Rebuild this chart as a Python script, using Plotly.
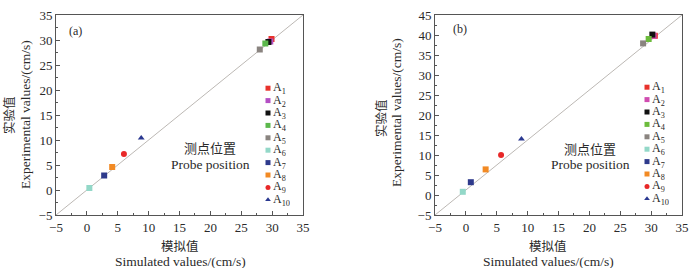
import plotly.graph_objects as go

labels = ["A<sub>1</sub>", "A<sub>2</sub>", "A<sub>3</sub>", "A<sub>4</sub>", "A<sub>5</sub>",
          "A<sub>6</sub>", "A<sub>7</sub>", "A<sub>8</sub>", "A<sub>9</sub>", "A<sub>10</sub>"]
sim_a = [29.9, 29.7, 29.4, 28.9, 28.0, 0.4, 2.8, 4.1, 6.0, 8.8]
exp_a = [30.2, 29.7, 29.6, 29.3, 28.1, 0.4, 2.9, 4.6, 7.2, 10.4]
sim_b = [30.6, 30.4, 30.2, 29.6, 28.7, -0.5, 0.8, 3.2, 5.7, 9.0]
exp_b = [39.8, 39.8, 40.1, 39.0, 37.9, 0.8, 3.2, 6.4, 10.0, 14.0]
colors = ["#e8322c", "#b44fc4", "#111111", "#5cb84c", "#8a8480",
          "#93d8c8", "#2e3a8c", "#f28a24", "#e82828", "#2a3890"]
colors_b = ["#e8322c", "#d04cb0", "#111111", "#6cbc3c", "#8a8480",
            "#93d8c8", "#2e3a8c", "#f28a24", "#e82828", "#2a3890"]
symbols = ["square"] * 8 + ["circle", "triangle-up"]

xrange_ = [-5, 35]
yrange_a = [-5, 35]
yrange_b = [-5, 45]

FONT = "Liberation Serif, Times New Roman, Noto Sans CJK SC, serif"
TXT = "#2a2a2a"

W, H = 700, 268
ML, MR, MT, MB = 40, 10, 10, 40
PW, PH = W - ML - MR, H - MT - MB


def px(x):
    return (x - ML) / PW


def py(y):
    return 1 - (y - MT) / PH


fig = go.Figure()

# diagonal reference lines (corner to corner)
fig.add_trace(go.Scatter(x=xrange_, y=yrange_a, mode="lines", line=dict(color="#bcb8b4", width=1),
                         showlegend=False, hoverinfo="skip", xaxis="x", yaxis="y"))
fig.add_trace(go.Scatter(x=xrange_, y=yrange_b, mode="lines", line=dict(color="#bcb8b4", width=1),
                         showlegend=False, hoverinfo="skip", xaxis="x2", yaxis="y2"))

for i, lab in enumerate(labels):
    fig.add_trace(go.Scatter(x=[sim_a[i]], y=[exp_a[i]], mode="markers", name=lab,
                             marker=dict(symbol=symbols[i], color=colors[i], size=6),
                             xaxis="x", yaxis="y", showlegend=False))
for i, lab in enumerate(labels):
    fig.add_trace(go.Scatter(x=[sim_b[i]], y=[exp_b[i]], mode="markers", name=lab,
                             marker=dict(symbol=symbols[i], color=colors_b[i], size=6),
                             xaxis="x2", yaxis="y2", showlegend=False))

# compact legends drawn on small helper axes (one row per label)
idx = list(range(len(labels)))
for xa, ya, cols in (("x3", "y3", colors), ("x4", "y4", colors_b)):
    fig.add_trace(go.Scatter(x=[0.15] * len(labels), y=idx, mode="markers",
                             marker=dict(symbol=symbols, color=cols, size=5),
                             xaxis=xa, yaxis=ya, showlegend=False, hoverinfo="skip"))
    for i, lab in enumerate(labels):
        fig.add_annotation(x=0.25, y=i, xref=xa, yref=ya, text=lab, height=12,
                           showarrow=False, xanchor="left", yanchor="middle", borderpad=0,
                           font=dict(family=FONT, size=12, color=TXT))

ax_common = dict(showline=True, linecolor="#555555", linewidth=1, mirror=True,
                 ticks="inside", ticklen=4, tickcolor="#555555", showgrid=False, zeroline=False,
                 automargin=False,
                 tickfont=dict(family=FONT, size=13, color=TXT),
                 minor=dict(ticks="inside", ticklen=2, tickcolor="#555555", dtick=2.5))
hidden = dict(visible=False, showgrid=False, zeroline=False, fixedrange=True, automargin=False)

fig.update_layout(
    width=W, height=H, margin=dict(l=ML, r=MR, t=MT, b=MB, autoexpand=False),
    paper_bgcolor="white", plot_bgcolor="white",
    font=dict(family=FONT, color=TXT),
    showlegend=False,
    xaxis=dict(domain=[px(56), px(303)], range=xrange_, dtick=5, anchor="y", **ax_common),
    yaxis=dict(domain=[py(215), py(15)], range=yrange_a, dtick=5, anchor="x", **ax_common),
    xaxis2=dict(domain=[px(435), px(682)], range=xrange_, dtick=5, anchor="y2", **ax_common),
    yaxis2=dict(domain=[py(215), py(15)], range=yrange_b, dtick=5, anchor="x2", **ax_common),
    xaxis3=dict(domain=[px(262), px(302)], range=[0, 1], anchor="y3", **hidden),
    yaxis3=dict(domain=[py(206), py(82)], range=[9.5, -0.5], anchor="x3", **hidden),
    xaxis4=dict(domain=[px(641), px(681)], range=[0, 1], anchor="y4", **hidden),
    yaxis4=dict(domain=[py(205), py(81)], range=[9.5, -0.5], anchor="x4", **hidden),
)


def ann(x, y, text, size=13, angle=0, h=None):
    fig.add_annotation(x=px(x), y=py(y), xref="paper", yref="paper", text=text,
                       showarrow=False, textangle=angle, xanchor="center", yanchor="middle",
                       height=h, borderpad=0,
                       font=dict(family=FONT, size=size, color=TXT))


ann(75, 31, "(a)", 12)
ann(460, 29, "(b)", 12)
ann(210, 148, "测点位置", 13)
ann(210, 164, "Probe position", 13.5)
ann(590, 149, "测点位置", 13)
ann(590, 164, "Probe position", 13.5)
ann(180, 246, "模拟值", 12.5, h=14)
ann(180, 261, "Simulated values/(cm/s)", 13.5, h=13)
ann(548, 246, "模拟值", 12.5, h=14)
ann(548, 261, "Simulated values/(cm/s)", 13.5, h=13)
ann(9, 115, "实验值", 12.5, -90)
ann(25, 115, "Experimental values/(cm/s)", 13.5, -90)
ann(381, 118, "实验值", 12.5, -90)
ann(397, 113, "Experimental values/(cm/s)", 13.5, -90)

fig.write_html("out.html", config={"displayModeBar": False},
               post_script="document.body.style.margin='0';document.body.style.overflow='hidden';")
